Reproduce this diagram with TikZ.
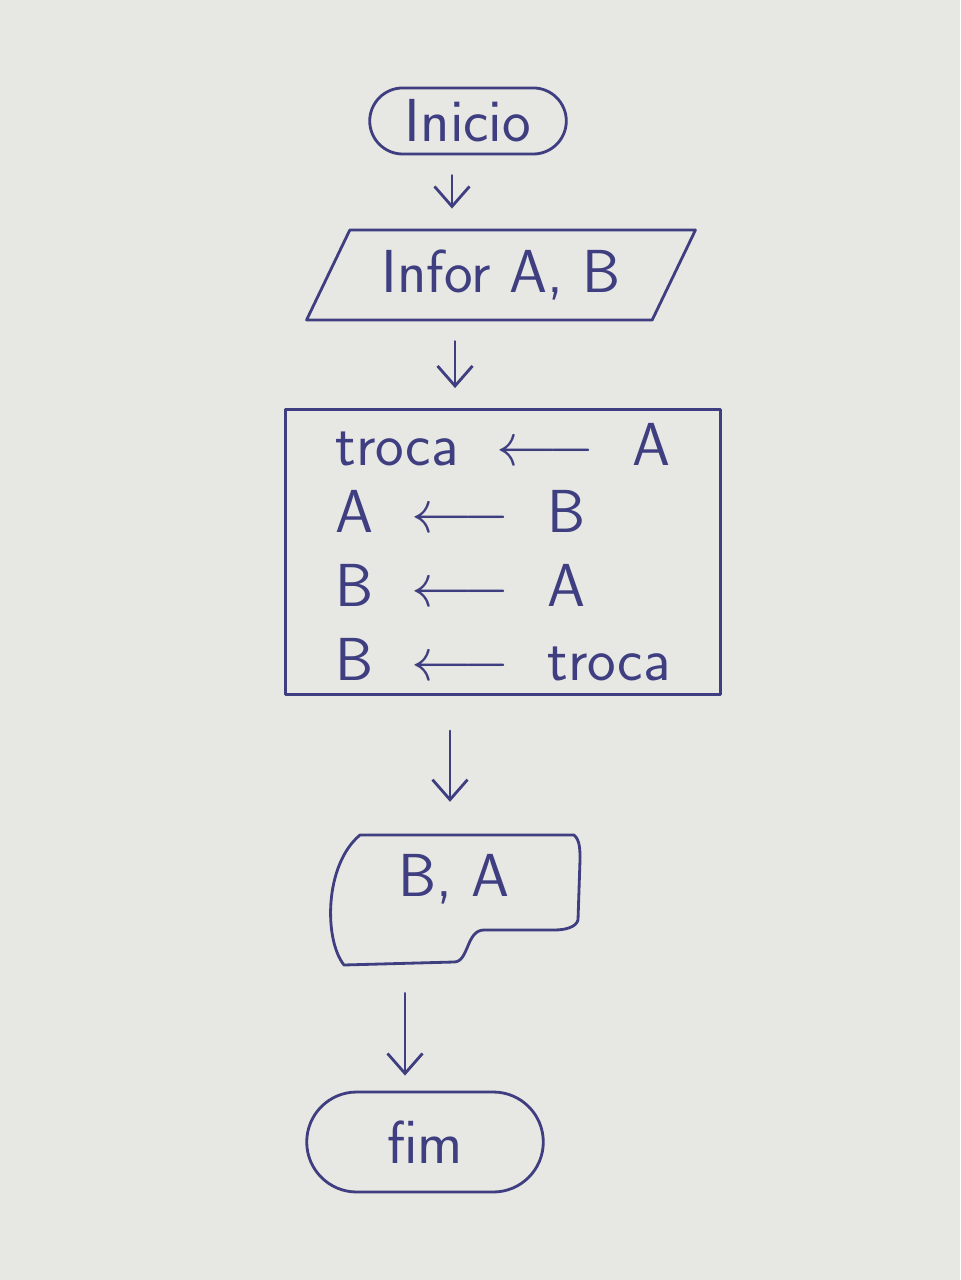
\documentclass[tikz,border=0pt]{standalone}
\usetikzlibrary{shapes.geometric,shapes.misc,arrows.meta}
\definecolor{tinta}{RGB}{62,62,128}
\definecolor{papel}{RGB}{231,231,227}
\tikzset{
  terminal/.style={draw=tinta, rounded rectangle, line width=0.8pt, text=tinta},
  entrada/.style={draw=tinta, trapezium, trapezium left angle=63, trapezium right angle=117,
    trapezium stretches=true, minimum width=3.9cm, minimum height=0.9cm, line width=0.8pt, text=tinta},
  processo/.style={draw=tinta, rectangle, minimum width=4.35cm, minimum height=2.85cm, line width=0.8pt,
    text=tinta, align=left, inner ysep=2pt},
  saida/.style={minimum width=2.5cm, minimum height=1.25cm, text depth=0.5cm, text=tinta},
  seta/.style={draw=tinta, line width=0.8pt, -{Straight Barb[length=2mm,width=3.5mm]}, shorten <=2mm, shorten >=2mm}
}
\begin{document}
\begin{tikzpicture}[font=\sffamily\LARGE, line join=round, line cap=round]
  \fill[papel] (0,0) rectangle (9.6,-12.8);
  \useasboundingbox (0,0) rectangle (9.6,-12.8);
  \node[terminal, minimum width=2.2cm, minimum height=0.6cm] (inicio) at (4.68,-1.21) {Inicio};
  \node[entrada] (infor) at (5.01,-2.75) {Infor A, B};
  \node[processo] (troca) at (5.03,-5.52) {%
    troca \ $\longleftarrow$\ \ A\\[-3pt]
    A \ $\longleftarrow$\ \ B\\[-1pt]
    B \ $\longleftarrow$\ \ A\\[-1pt]
    B \ $\longleftarrow$\ \ troca};
  \node[saida] (saida) at (4.54,-9.0) {B, A};
  % contorno da saida
  \begin{scope}[shift={(saida.center)}]
    \draw[tinta, line width=0.8pt] (-0.94,0.65) -- (1.2,0.65)
      .. controls (1.26,0.6) and (1.26,0.5) .. (1.26,0.4) -- (1.24,-0.2)
      .. controls (1.22,-0.27) and (1.12,-0.3) .. (1.0,-0.3) -- (0.3,-0.3)
      .. controls (0.12,-0.3) and (0.15,-0.62) .. (0.0,-0.62) -- (-1.1,-0.65)
      .. controls (-1.3,-0.4) and (-1.3,0.35) .. cycle;
  \end{scope}
  \node[terminal, minimum width=2.6cm, minimum height=1.0cm] (fim) at (4.25,-11.42) {fim};
  \draw[seta] ([xshift=-1.6mm]inicio.south) -- ([xshift=-1.6mm]inicio.south |- infor.north);
  \draw[seta] ([xshift=-4.6mm]infor.south) -- ([xshift=-4.6mm]infor.south |- troca.north);
  \draw[seta, shorten <=3.5mm, shorten >=3.5mm] ([xshift=-5.3mm]troca.south) -- ([xshift=-5.3mm]troca.south |- saida.north);
  \draw[seta, shorten <=3mm, shorten >=1.5mm] ([xshift=-4.9mm]saida.south) -- ([xshift=-4.9mm]saida.south |- fim.north);
\end{tikzpicture}
\end{document}
